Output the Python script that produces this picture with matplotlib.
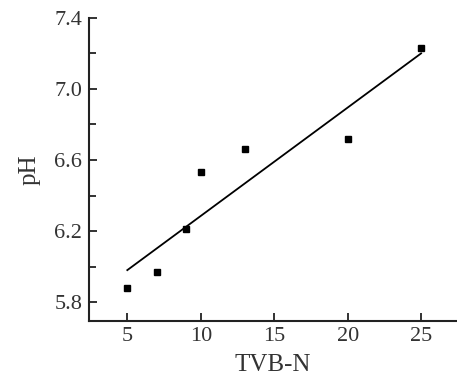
import numpy as np
import matplotlib.pyplot as plt
from matplotlib.ticker import MultipleLocator

plt.rcParams['font.family'] = ['Liberation Serif', 'DejaVu Serif']

# measured points
tvbn = [5, 7, 9, 10, 13, 20, 25]
ph = [5.88, 5.97, 6.21, 6.53, 6.66, 6.72, 7.23]

# fitted line ends
fit_x = [5, 25]
fit_y = [5.98, 7.20]

fig = plt.figure(figsize=(4.57, 3.8), dpi=100)
ax = fig.add_axes([0.195, 0.155, 0.802, 0.798])

ax.plot(fit_x, fit_y, color='black', linewidth=1.3)
ax.plot(tvbn, ph, linestyle='none', marker='s', markersize=5,
        color='black')

ax.set_xlim(2.4, 27.35)
ax.set_ylim(5.693, 7.4)
ax.set_xticks([5, 10, 15, 20, 25])
ax.set_yticks([5.8, 6.2, 6.6, 7.0, 7.4])
ax.set_yticklabels(['5.8', '6.2', '6.6', '7.0', '7.4'])
ax.yaxis.set_minor_locator(MultipleLocator(0.2))

ax.spines['top'].set_visible(False)
ax.spines['right'].set_visible(False)
for s in ['left', 'bottom']:
    ax.spines[s].set_linewidth(1.5)
    ax.spines[s].set_color('#222222')

ax.tick_params(which='major', direction='in', length=6, width=1.3,
               labelsize=16, pad=5, colors='#222222', labelcolor='#333333')
ax.tick_params(axis='x', pad=4)
ax.tick_params(which='minor', direction='in', length=5, width=1.3,
               colors='#222222')

ax.set_xlabel('TVB-N', fontsize=18, labelpad=6, color='#333333')
ax.set_ylabel('pH', fontsize=18, labelpad=10, color='#333333')

fig.savefig('out.png', dpi=100)
